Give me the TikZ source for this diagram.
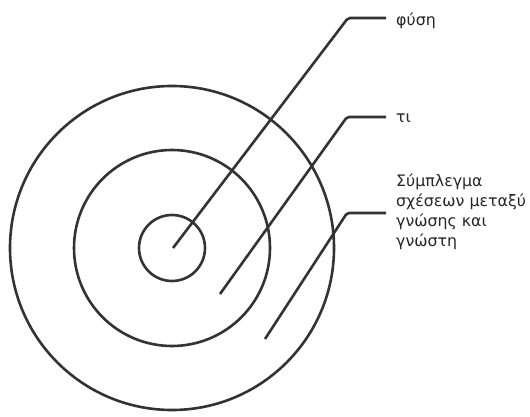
\documentclass[tikz,border=0pt]{standalone}
\usepackage{fontspec}
\setmainfont{DejaVu Sans}
\begin{document}
\begin{tikzpicture}[x=1pt,y=-1pt,
  ring/.style={draw=black!80, line width=2.6pt},
  lead/.style={draw=black!80, line width=2.6pt, rounded corners=2pt},
  lbl/.style={anchor=base west, inner sep=0pt, font=\fontsize{15.8}{20}\selectfont, text=black!85, align=left}]
\useasboundingbox (0,0) rectangle (530,417);
\coordinate (c) at (172,248);
\node[ring, circle, minimum size=324pt, inner sep=0pt] (outer) at (c) {};
\node[ring, circle, minimum size=196pt, inner sep=0pt] (middle) at (c) {};
\node[ring, circle, minimum size=66pt, inner sep=0pt] (inner) at (c) {};
\coordinate (s1) at (173,248);
\coordinate (s2) at (220,294);
\coordinate (s3) at (265,339);
\node[lbl] (l1) at (396,26) {φύση};
\node[lbl] (l2) at (396,123) {τι};
\node[lbl] (l3) at (396,246) {Σύμπλεγμα\\σχέσεων μεταξύ\\γνώσης και\\γνώστη};
\draw[lead] (s1) -- (348,18) -- (386,18);
\draw[lead] (s2) -- (347,117) -- (386,117);
\draw[lead] (s3) -- (347,213) -- (386,213);
\end{tikzpicture}
\end{document}
